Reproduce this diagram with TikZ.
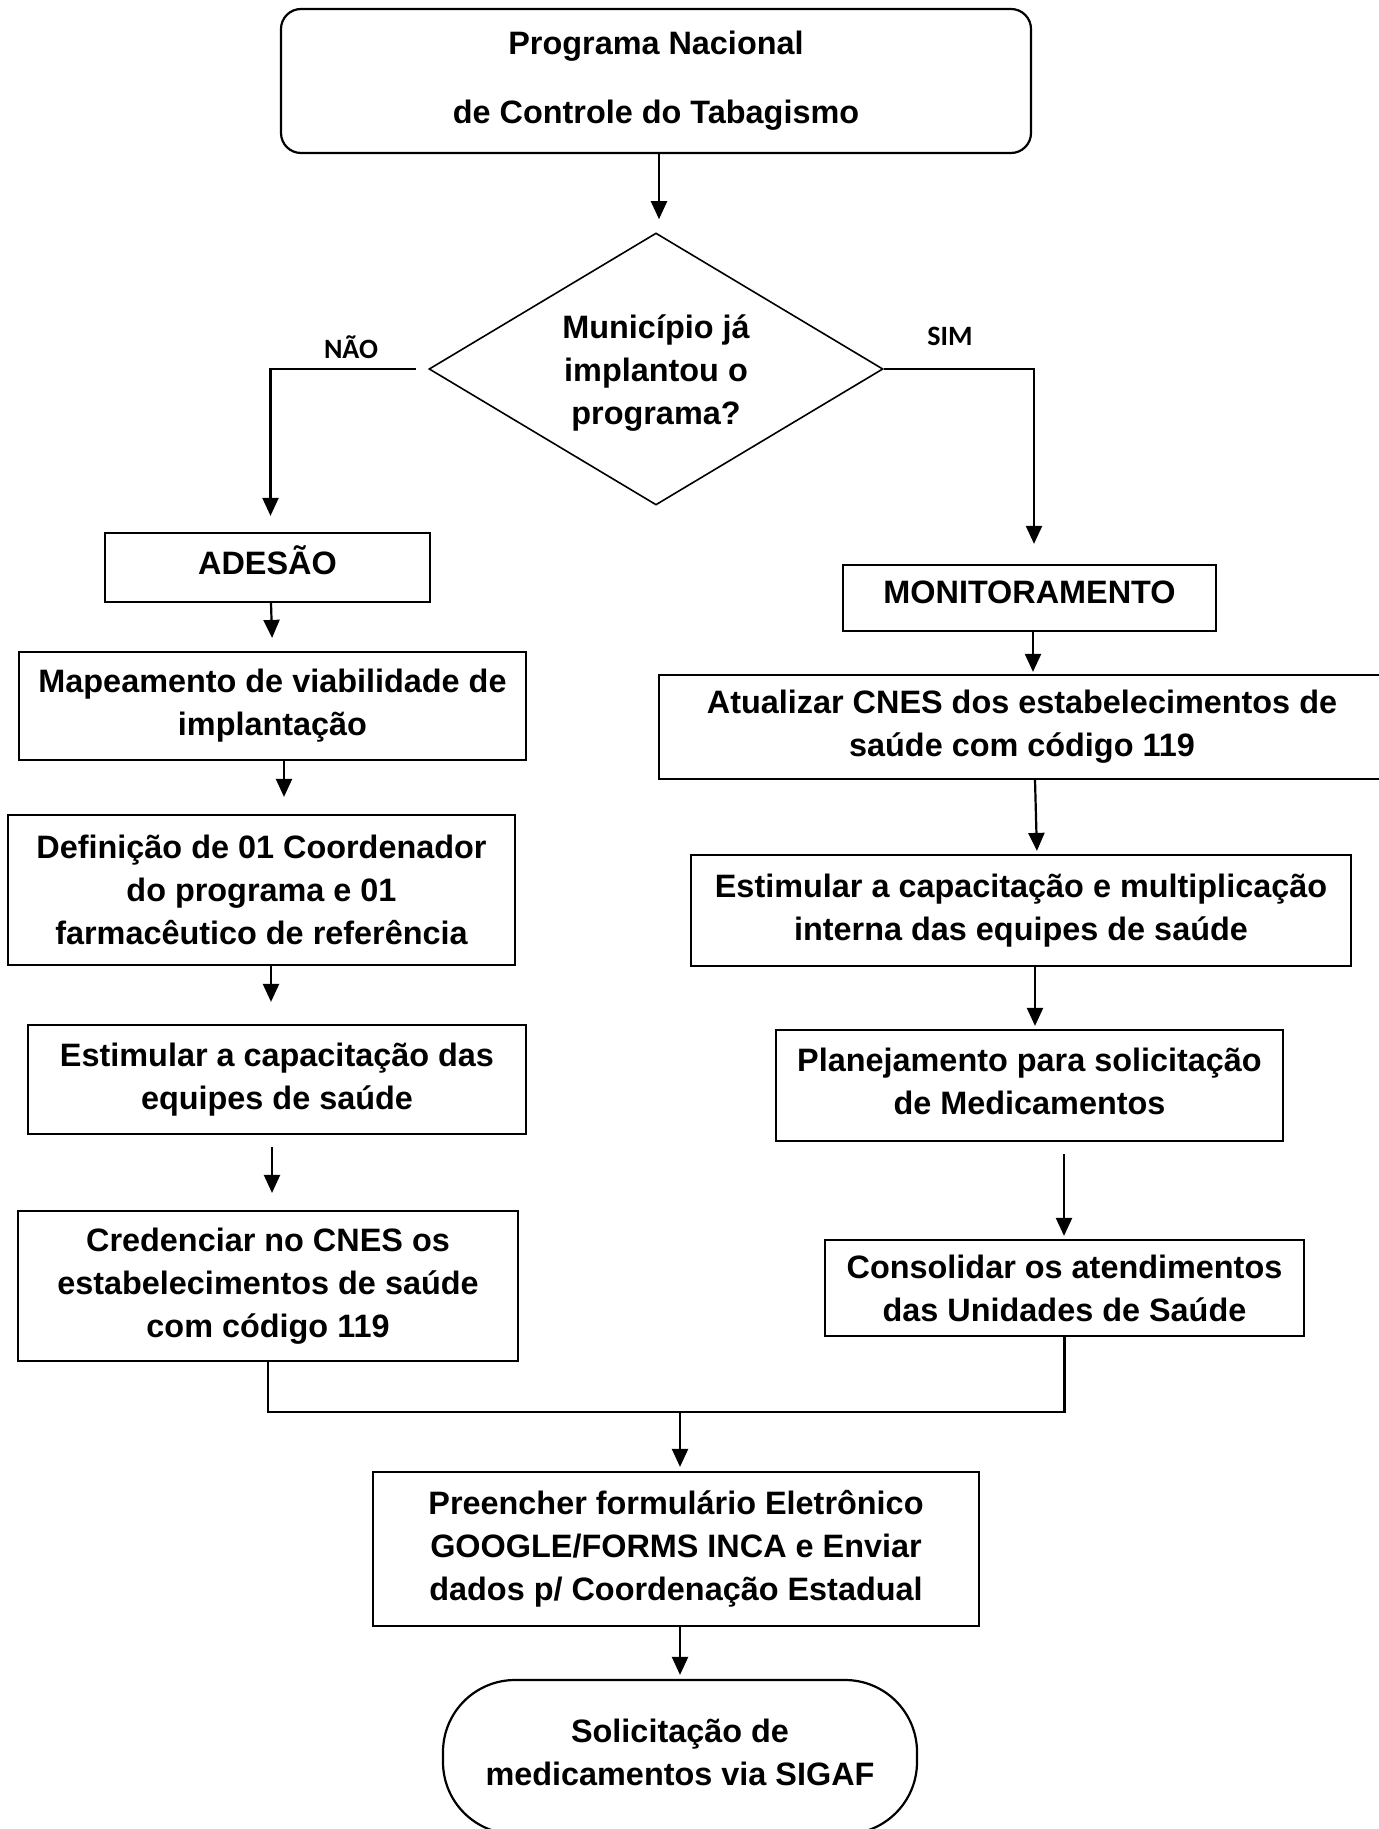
\documentclass[tikz,border=0pt]{standalone}
\usepackage{fontspec}
\setmainfont{Liberation Sans}
\newfontfamily\labfont{Carlito}
\usetikzlibrary{shapes.geometric,arrows.meta}
\begin{document}
\begin{tikzpicture}[x=0.5pt,y=-0.5pt,
  box/.style={draw,line width=1.1pt,inner sep=0pt,align=center,font=\fontsize{16.2}{21.5}\selectfont\bfseries},
  arr/.style={line width=1.1pt,-{Triangle[length=9pt,width=8pt]}},
  con/.style={line width=1.1pt},
  lbl/.style={font=\fontsize{14}{16}\selectfont\labfont\bfseries}]
\useasboundingbox[fill=white] (0,0) rectangle (1379,1829);

% top
\node[box,rounded corners=10pt,minimum width=375pt,minimum height=72pt,
  font=\fontsize{16.2}{34.5}\selectfont\bfseries] (top) at (656,81)
  {Programa Nacional\\de Controle do Tabagismo};

% decision
\node[draw,diamond,aspect=1.67,line width=0.8pt,minimum width=227pt,minimum height=136pt,
  inner sep=0pt,font=\fontsize{16.2}{21.5}\selectfont\bfseries] (dia) at (656,369)
  {\raisebox{-1.75pt}[\height][\depth]{\begin{tabular}{@{}c@{}}Município já\\implantou o\\programa?\end{tabular}}};

\node[lbl] (nao) at (351,347) {NÃO};
\node[lbl] (sim) at (950,336) {SIM};

% left column
\node[box,minimum width=162.5pt,minimum height=34.5pt] (adesao) at (267.5,567.5)
  {\raisebox{3.5pt}[\height][\depth]{ADESÃO}};
\node[box,minimum width=253.5pt,minimum height=54pt] (map) at (272.5,706)
  {Mapeamento de viabilidade de\\implantação};
\node[box,minimum width=253.5pt,minimum height=75pt] (def) at (261.5,890)
  {Definição de 01 Coordenador\\do programa e 01\\farmacêutico de referência};
\node[box,minimum width=249pt,minimum height=54.5pt] (estl) at (277,1079.5)
  {Estimular a capacitação das\\equipes de saúde};
\node[box,minimum width=250pt,minimum height=75pt] (cred) at (268,1286)
  {Credenciar no CNES os\\estabelecimentos de saúde\\com código 119};

% right column
\node[box,minimum width=186.5pt,minimum height=33pt] (mon) at (1029.5,598)
  {\raisebox{3pt}[\height][\depth]{MONITORAMENTO}};
\node[box,minimum width=363pt,minimum height=52pt] (atu) at (1022,727)
  {Atualizar CNES dos estabelecimentos de\\saúde com código 119};
\node[box,minimum width=330pt,minimum height=55.5pt] (estr) at (1021,910.5)
  {Estimular a capacitação e multiplicação\\interna das equipes de saúde};
\node[box,minimum width=253.5pt,minimum height=55.5pt] (plan) at (1029.5,1085.5)
  {\raisebox{0.5pt}[\height][\depth]{\begin{tabular}{@{}c@{}}Planejamento para solicitação\\de Medicamentos\end{tabular}}};
\node[box,minimum width=239.5pt,minimum height=48pt] (cons) at (1064.5,1288)
  {Consolidar os atendimentos\\das Unidades de Saúde};

% bottom
\node[box,minimum width=303pt,minimum height=77pt] (pre) at (676,1549)
  {Preencher formulário Eletrônico\\GOOGLE/FORMS INCA e Enviar\\dados p/ Coordenação Estadual};
\node[box,rounded corners=36pt,minimum width=237pt,minimum height=77pt] (sol) at (680,1757)
  {\raisebox{1pt}[\height][\depth]{\begin{tabular}{@{}c@{}}Solicitação de\\medicamentos via SIGAF\end{tabular}}};

\coordinate (m) at (680,1412);

% connectors
\draw[arr,shorten >=6.5pt] ([xshift=1.5pt]top.south) -- ([xshift=1.5pt]dia.north);
\draw[arr,shorten >=8pt] ([xshift=-6pt]dia.west) -| ([xshift=1.5pt]adesao.north);
\draw[arr,shorten >=10pt] (dia.east) -| ([xshift=2.25pt]mon.north);

\draw[arr,shorten >=6.5pt] ([xshift=1.75pt]adesao.south) -- (map.north);
\draw[arr,shorten >=8.5pt] ([xshift=5.75pt]map.south) -- ([xshift=11.25pt]def.north);
\draw[arr,shorten >=11pt] ([xshift=4.75pt]def.south) -- ([xshift=-3pt]estl.north);
\draw[arr,shorten <=6pt,shorten >=8.5pt] ([xshift=-2.5pt]estl.south) -- ([xshift=2pt]cred.north);

\draw[arr,shorten >=1pt] ([xshift=1.75pt]mon.south) -- ([xshift=5.5pt]atu.north);
\draw[arr,shorten >=1.5pt] ([xshift=6.5pt]atu.south) -- ([xshift=8pt]estr.north);
\draw[arr,shorten >=1.5pt] ([xshift=7pt]estr.south) -- ([xshift=2.75pt]plan.north);
\draw[arr,shorten <=6pt,shorten >=1.5pt] ([xshift=17.25pt]plan.south) -- ([xshift=-0.25pt]cons.north);

\draw[con] (cred.south) |- (m) -| (cons.south);
\draw[arr,shorten >=2pt] (m) -- (m |- pre.north);
\draw[arr,shorten >=2pt] ([xshift=2pt]pre.south) -- (sol.north);
\end{tikzpicture}
\end{document}
